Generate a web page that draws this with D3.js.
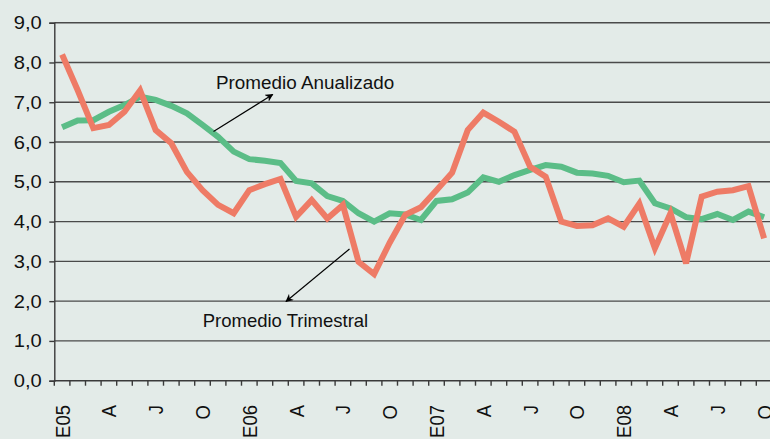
<!DOCTYPE html>
<html>
<head>
<meta charset="utf-8">
<script src="https://cdn.jsdelivr.net/npm/d3@7"></script>
<style>
  html, body { margin: 0; padding: 0; background: #e3ebe8; }
  svg { display: block; }
  text { font-family: "Liberation Sans", Arial, Helvetica, sans-serif; fill: #111; }
</style>
</head>
<body>
<svg id="chart" width="770" height="439"></svg>
<script>
const months = [
  "E05","F","M","A","M","J","J","A","S","O","N","D",
  "E06","F","M","A","M","J","J","A","S","O","N","D",
  "E07","F","M","A","M","J","J","A","S","O","N","D",
  "E08","F","M","A","M","J","J","A","S","O"
];
const shownLabels = [0,3,6,9,12,15,18,21,24,27,30,33,36,39,42,45];
const trimestral = [8.2, 7.3, 6.35, 6.43, 6.76, 7.3, 6.30, 5.97, 5.25, 4.79, 4.42, 4.21,
  4.79, 4.94, 5.07, 4.12, 4.54, 4.08, 4.42, 2.99, 2.68, 3.47, 4.17, 4.36,
  4.79, 5.23, 6.30, 6.74, 6.51, 6.26, 5.38, 5.13, 4.00, 3.89, 3.91, 4.08,
  3.87, 4.45, 3.33, 4.21, 2.95, 4.63, 4.75, 4.79, 4.89, 3.58];
const anualizado = [6.37, 6.54, 6.55, 6.76, 6.93, 7.14, 7.06, 6.91, 6.72, 6.43, 6.13, 5.76,
  5.57, 5.53, 5.47, 5.02, 4.96, 4.64, 4.52, 4.21, 4.00, 4.21, 4.18, 4.04,
  4.52, 4.56, 4.73, 5.11, 5.00, 5.17, 5.30, 5.42, 5.38, 5.23, 5.21, 5.15,
  4.99, 5.03, 4.46, 4.33, 4.11, 4.06, 4.19, 4.04, 4.25, 4.11];
const yTicks = [0,1,2,3,4,5,6,7,8,9];
const annAnual = "Promedio Anualizado";
const annTrim = "Promedio Trimestral";

const svg = d3.select("#chart");
const mLeft = 54.3, mTop = 22.7, mBottom = 380.7, step = 15.6;
const idx = d3.range(months.length);
const x = d3.scaleBand().domain(idx).range([mLeft, mLeft + step * months.length]).padding(0);
const y = d3.scaleLinear().domain([0, 9]).range([mBottom, mTop]);
const fmt = v => d3.format(".1f")(v).replace(".", ",");

// gridlines
svg.append("g").selectAll("line").data(yTicks.filter(d => d > 0)).join("line")
  .attr("x1", mLeft).attr("x2", 770)
  .attr("y1", d => y(d)).attr("y2", d => y(d))
  .attr("stroke", "#4a4a4a").attr("stroke-width", 1.4);

// y axis
const yAxis = svg.append("g").attr("transform", `translate(${mLeft},0)`)
  .call(d3.axisLeft(y).tickValues(yTicks).tickSize(5).tickPadding(7).tickFormat(fmt));
yAxis.select(".domain").attr("stroke", "#3a3a3a").attr("stroke-width", 1.4);
yAxis.selectAll(".tick line").attr("stroke", "#3a3a3a").attr("stroke-width", 1.4);
yAxis.selectAll(".tick text").each(function() {
  const t = d3.select(this);
  t.attr("font-size", 17.5).attr("fill", "#111")
   .attr("x", null).attr("dy", null)
   .attr("dominant-baseline", "central")
   .attr("font-family", "'Liberation Sans', Arial, sans-serif")
   .attr("transform", "translate(-12.6,0) scale(1.15,1)");
});

// x axis baseline
svg.append("line").attr("x1", mLeft).attr("x2", 770).attr("y1", mBottom).attr("y2", mBottom)
  .attr("stroke", "#3a3a3a").attr("stroke-width", 1.4);
// x ticks at category boundaries
const bounds = d3.range(months.length + 1);
svg.append("g").selectAll("line").data(bounds).join("line")
  .attr("x1", d => mLeft + d * x.step()).attr("x2", d => mLeft + d * x.step())
  .attr("y1", mBottom).attr("y2", mBottom + 5)
  .attr("stroke", "#3a3a3a").attr("stroke-width", 1.4);
// x labels
svg.append("g").selectAll("text").data(shownLabels).join("text")
  .attr("transform", d => `translate(${x(d) + x.bandwidth() / 2},405) scale(1.12,1) rotate(-90)`)
  .attr("text-anchor", "end").attr("dy", "0.36em")
  .attr("font-size", 18.5)
  .text(d => months[d]);

// lines
const line = d3.line().x((d, i) => x(i) + x.bandwidth() / 2).y(d => y(d));
svg.append("path").datum(anualizado).attr("d", line)
  .attr("fill", "none").attr("stroke", "#5bbd87").attr("stroke-width", 6)
  .attr("stroke-linejoin", "miter").attr("stroke-miterlimit", 3);
svg.append("path").datum(trimestral).attr("d", line)
  .attr("fill", "none").attr("stroke", "#ee7b66").attr("stroke-width", 6)
  .attr("stroke-linejoin", "miter").attr("stroke-miterlimit", 3);

// arrow marker
svg.append("defs").append("marker").attr("id", "arr")
  .attr("viewBox", "0 0 10 10").attr("refX", 9).attr("refY", 5)
  .attr("markerWidth", 8).attr("markerHeight", 8).attr("markerUnits", "userSpaceOnUse")
  .attr("orient", "auto")
  .append("path").attr("d", "M0,0 L10,5 L0,10 L3,5 Z").attr("fill", "#000");

// annotations
svg.append("line").attr("x1", 213.5).attr("y1", 131.5).attr("x2", 272.7).attr("y2", 94.5)
  .attr("stroke", "#000").attr("stroke-width", 1.2).attr("marker-end", "url(#arr)");
svg.append("text").attr("transform", "translate(216,88.5) scale(1.02,1)")
  .attr("font-size", 18.5).text(annAnual);

svg.append("line").attr("x1", 349.5).attr("y1", 249).attr("x2", 286).attr("y2", 301.5)
  .attr("stroke", "#000").attr("stroke-width", 1.2).attr("marker-end", "url(#arr)");
svg.append("text").attr("transform", "translate(202.7,327)")
  .attr("font-size", 18.5).text(annTrim);
</script>
</body>
</html>
